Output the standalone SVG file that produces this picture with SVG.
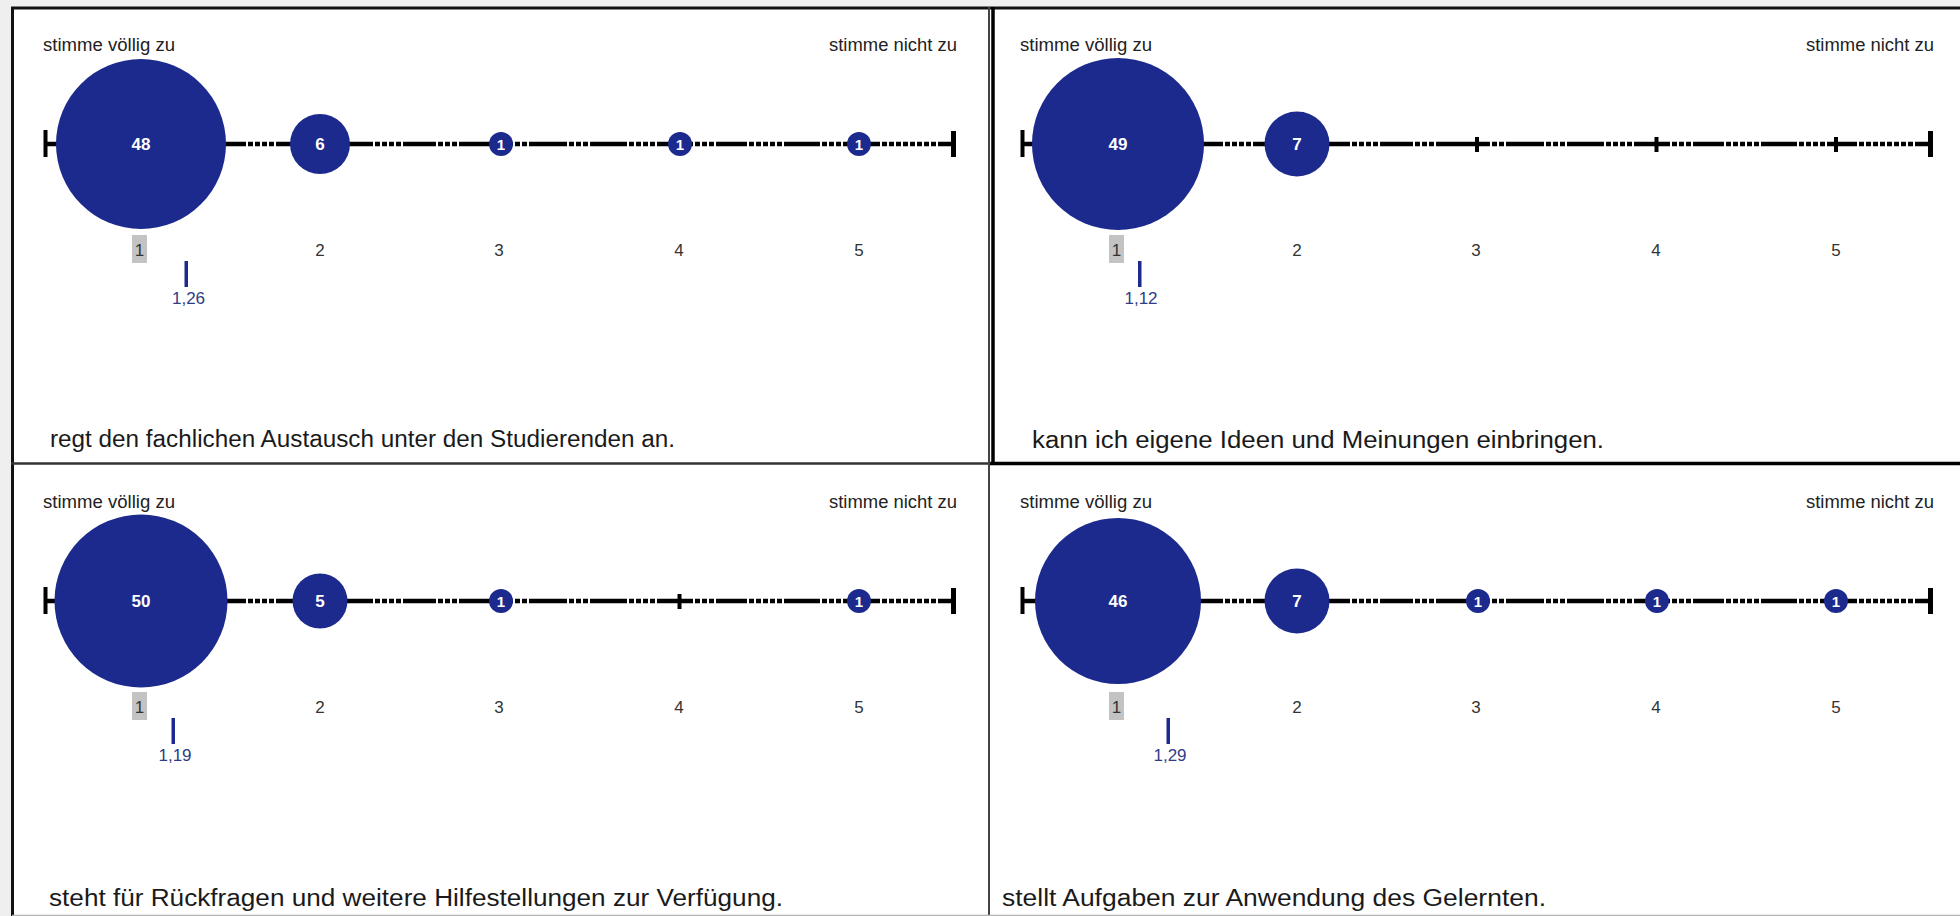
<svg xmlns="http://www.w3.org/2000/svg" xmlns:xlink="http://www.w3.org/1999/xlink" width="1960" height="916" viewBox="0 0 1960 916">
<style>
  text { font-family: "Liberation Sans", Arial, sans-serif; }
  .hdr { font-size: 17.5px; fill: #222; }
  .stmt { font-size: 23px; fill: #1a1a1a; }
  .tick-lbl { font-size: 17px; fill: #333; text-anchor: middle; }
  .cnt { font-size: 17px; font-weight: bold; fill: #fff; text-anchor: middle; }
  .cnt1 { font-size: 15px; font-weight: bold; fill: #fff; text-anchor: middle; }
  .dot { fill: #1b2a8c; }
  .mean { fill: #1b2a8c; }
  .mean-lbl { font-size: 17px; fill: #2f3d85; text-anchor: middle; }
  .ax { stroke: #000; stroke-width: 4.5; fill: none; }
  .gap { stroke: #fff; stroke-width: 6; stroke-dasharray: 2 5; fill: none; }
  .blk { fill: #000; }
  .box1 { fill: #c3c3c3; }
</style>
<defs>
  <g id="axis">
    <line class="ax" x1="45" y1="144" x2="954" y2="144"/>
    <path class="gap" d="M246 144h30 M373 144h30 M436 144h26 M513 144h18 M567 144h24 M627 144h30 M693 144h24 M747 144h40 M820 144h34 M880 144h62"/>
    <rect class="blk" x="43.5" y="130" width="4" height="27"/>
    <rect class="blk" x="951" y="131" width="5" height="26"/>
    <rect class="blk" x="318.5" y="137" width="4" height="15"/>
    <rect class="blk" x="498" y="137" width="4" height="15"/>
    <rect class="blk" x="677.5" y="137" width="4" height="15"/>
    <rect class="blk" x="857" y="137" width="4" height="15"/>
  </g>
  <g id="scale-labels">
    <rect class="box1" x="132" y="235" width="15" height="28"/>
    <text class="tick-lbl" x="139.5" y="256">1</text>
    <text class="tick-lbl" x="320" y="256">2</text>
    <text class="tick-lbl" x="499" y="256">3</text>
    <text class="tick-lbl" x="679" y="256">4</text>
    <text class="tick-lbl" x="859" y="256">5</text>
  </g>
  <g id="header">
    <text class="hdr" x="43" y="51" textLength="132" lengthAdjust="spacingAndGlyphs">stimme völlig zu</text>
    <text class="hdr" x="829" y="51" textLength="128" lengthAdjust="spacingAndGlyphs">stimme nicht zu</text>
  </g>
</defs>

<!-- page background and frame -->
<rect x="0" y="0" width="1960" height="916" fill="#efefef"/>
<rect x="12" y="7" width="1948" height="908" fill="#fff"/>
<g id="frame" fill="none">
  <line x1="12.5" y1="7" x2="12.5" y2="916" stroke="#111" stroke-width="3"/>
  <line x1="11" y1="8" x2="1960" y2="8" stroke="#111" stroke-width="3"/>
  <line x1="11" y1="463.5" x2="990" y2="463.5" stroke="#333" stroke-width="2.5"/>
  <line x1="990" y1="463.5" x2="1960" y2="463.5" stroke="#000" stroke-width="3.5"/>
  <line x1="989" y1="7" x2="989" y2="916" stroke="#444" stroke-width="2"/>
  <line x1="993" y1="7" x2="993" y2="465" stroke="#000" stroke-width="3.5"/>
  <line x1="12" y1="915.5" x2="1960" y2="915.5" stroke="#b5b5b5" stroke-width="1.5"/>
</g>

<!-- top-left panel -->
<g id="panel-tl">
  <use xlink:href="#header"/>
  <use xlink:href="#axis"/>
  <use xlink:href="#scale-labels"/>
  <circle class="dot" cx="141" cy="144" r="85"/>
  <text class="cnt" x="141" y="150">48</text>
  <circle class="dot" cx="320" cy="144" r="30"/>
  <text class="cnt" x="320" y="150">6</text>
  <circle class="dot" cx="501" cy="144" r="12"/>
  <text class="cnt1" x="501" y="149.5">1</text>
  <circle class="dot" cx="680" cy="144" r="12"/>
  <text class="cnt1" x="680" y="149.5">1</text>
  <circle class="dot" cx="859" cy="144" r="12"/>
  <text class="cnt1" x="859" y="149.5">1</text>
  <rect class="mean" x="184.5" y="261" width="3.5" height="26"/>
  <text class="mean-lbl" x="188.5" y="304">1,26</text>
  <text class="stmt" x="50" y="447" textLength="625" lengthAdjust="spacingAndGlyphs">regt den fachlichen Austausch unter den Studierenden an.</text>
</g>

<!-- top-right panel -->
<g id="panel-tr" transform="translate(977,0)">
  <use xlink:href="#header"/>
  <use xlink:href="#axis"/>
  <use xlink:href="#scale-labels"/>
  <circle class="dot" cx="141" cy="144" r="86"/>
  <text class="cnt" x="141" y="150">49</text>
  <circle class="dot" cx="320" cy="144" r="32.5"/>
  <text class="cnt" x="320" y="150">7</text>
  <rect class="mean" x="161" y="261" width="3.5" height="26"/>
  <text class="mean-lbl" x="164" y="304">1,12</text>
  <text class="stmt" x="55" y="448" textLength="572" lengthAdjust="spacingAndGlyphs">kann ich eigene Ideen und Meinungen einbringen.</text>
</g>

<!-- bottom-left panel -->
<g id="panel-bl" transform="translate(0,457)">
  <use xlink:href="#header"/>
  <use xlink:href="#axis"/>
  <use xlink:href="#scale-labels"/>
  <circle class="dot" cx="141" cy="144" r="86.5"/>
  <text class="cnt" x="141" y="150">50</text>
  <circle class="dot" cx="320" cy="144" r="27.5"/>
  <text class="cnt" x="320" y="150">5</text>
  <circle class="dot" cx="501" cy="144" r="12"/>
  <text class="cnt1" x="501" y="149.5">1</text>
  <circle class="dot" cx="859" cy="144" r="12"/>
  <text class="cnt1" x="859" y="149.5">1</text>
  <rect class="mean" x="171.5" y="261" width="3.5" height="26"/>
  <text class="mean-lbl" x="175" y="304">1,19</text>
  <text class="stmt" x="49" y="449" textLength="734" lengthAdjust="spacingAndGlyphs">steht für Rückfragen und weitere Hilfestellungen zur Verfügung.</text>
</g>

<!-- bottom-right panel -->
<g id="panel-br" transform="translate(977,457)">
  <use xlink:href="#header"/>
  <use xlink:href="#axis"/>
  <use xlink:href="#scale-labels"/>
  <circle class="dot" cx="141" cy="144" r="83"/>
  <text class="cnt" x="141" y="150">46</text>
  <circle class="dot" cx="320" cy="144" r="32.5"/>
  <text class="cnt" x="320" y="150">7</text>
  <circle class="dot" cx="501" cy="144" r="12"/>
  <text class="cnt1" x="501" y="149.5">1</text>
  <circle class="dot" cx="680" cy="144" r="12"/>
  <text class="cnt1" x="680" y="149.5">1</text>
  <circle class="dot" cx="859" cy="144" r="12"/>
  <text class="cnt1" x="859" y="149.5">1</text>
  <rect class="mean" x="189.5" y="261" width="3.5" height="26"/>
  <text class="mean-lbl" x="193" y="304">1,29</text>
  <text class="stmt" x="25" y="449" textLength="544" lengthAdjust="spacingAndGlyphs">stellt Aufgaben zur Anwendung des Gelernten.</text>
</g>
</svg>
